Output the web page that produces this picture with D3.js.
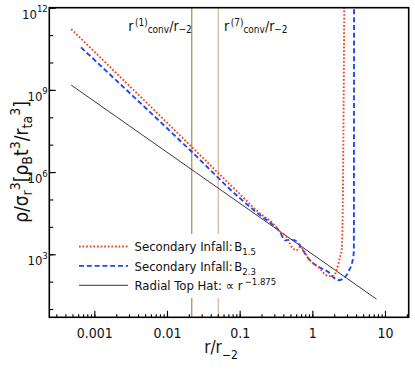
<!DOCTYPE html>
<html lang="en">
  <head>
    <meta charset="UTF-8" />
    <title>Density profiles</title>
    <style>
      body { margin: 0; background: #fff; }
      svg text { font-family: "Liberation Sans Narrow", "DejaVu Sans Condensed", "Liberation Sans", Arial, sans-serif; fill: #111; }
      .frame { fill: none; stroke: #000; stroke-width: 1.6; }
      .axis path { display: none; }
      .axis line { stroke: #000; stroke-width: 1.1; }
    </style>
  </head>
  <body>
    <script src="https://cdn.jsdelivr.net/npm/d3@7/dist/d3.min.js"></script>
    <script>
    // values
    var rB15   = [4.8e-4, 0.0219, 0.101, 0.19, 0.29, 0.358, 0.443, 0.519, 0.608, 0.676, 0.75, 0.927, 1.27, 1.57, 1.94, 2.16, 2.40, 2.53, 2.60, 2.75];
    var rhoB15 = [1.66e11, 8.3e6, 1.55e5, 3.1e4, 1.3e4, 6.6e3, 4.3e3, 1.86e3, 1.41e3, 1.86e3, 1.41e3, 603, 302, 170, 158, 263, 794, 1.4e3, 1e4, 1e12];

    var rB23   = [6.56e-4, 0.0219, 0.101, 0.19, 0.29, 0.358, 0.42, 0.49, 0.577, 0.676, 0.79, 0.927, 1.27, 1.66, 2.05, 2.27, 2.66, 3.12, 3.66, 3.73, 3.75];
    var rhoB23 = [3.55e10, 5.5e6, 1.1e5, 2.7e4, 1.15e4, 6.6e3, 3.2e3, 3.4e3, 3.2e3, 2.1e3, 1.07e3, 603, 327, 224, 129, 112, 129, 224, 794, 1.4e3, 1e12];

    var rTopHat   = [4.8e-4, 7.66];
    var rhoTopHat = [1.5e9, 23];

    var convR = [0.0219, 0.0508];
    var convSup = ["(1)", "(7)"];

    var xTicks = [0.001, 0.01, 0.1, 1, 10];
    var xTickLabels = ["0.001", "0.01", "0.1", "1", "10"];
    var yTicks = [1e3, 1e6, 1e9, 1e12];
    var yTickExp = ["3", "6", "9", "12"];

    var width = 415, height = 382;
    var plotL = 49.3, plotR = 408.7, plotT = 7.7, plotB = 317.3;

    var svg = d3.select("body").append("svg")
      .attr("width", width)
      .attr("height", height);

    var xScale = d3.scaleLog().domain([2.4e-4, 21.2]).range([plotL, plotR]);
    var yScale = d3.scaleLog().domain([5, 1e12]).range([plotB, plotT]);

    svg.append("clipPath").attr("id", "plotclip")
      .append("rect").attr("x", plotL).attr("y", plotT)
      .attr("width", plotR - plotL).attr("height", plotB - plotT);

    // convergence radii
    var conv = svg.append("g");
    conv.selectAll("line").data(convR).enter().append("line")
      .attr("x1", function(d) { return xScale(d); })
      .attr("x2", function(d) { return xScale(d); })
      .attr("y1", plotT).attr("y2", plotB)
      .attr("stroke", function(d, i) { return i == 0 ? "#b58d63" : "#d9bea0"; })
      .attr("stroke-width", 1.3);

    conv.selectAll("text").data(convR).enter().append("text")
      .attr("x", function(d, i) { return xScale(d) + (i == 0 ? -63.5 : 5.7); })
      .attr("y", 31)
      .style("font-size", "14px")
      .each(function(d, i) {
        var t = d3.select(this);
        t.append("tspan").text("r");
        t.append("tspan").attr("dy", -5).attr("dx", 1.5).style("font-size", "10px").text(convSup[i]);
        t.append("tspan").attr("dy", 7).style("font-size", "10px").text("conv");
        t.append("tspan").attr("dy", -2).text("/r");
        t.append("tspan").attr("dy", 2).style("font-size", "10px").text("\u22122");
      });

    // curves
    var line = d3.line()
      .x(function(d) { return xScale(d[0]); })
      .y(function(d) { return yScale(d[1]); })
      .curve(d3.curveMonotoneX);

    var plot = svg.append("g").attr("clip-path", "url(#plotclip)");

    plot.append("path")
      .datum(d3.zip(rTopHat, rhoTopHat))
      .attr("d", line)
      .attr("fill", "none")
      .attr("stroke", "#222")
      .attr("stroke-width", 0.9);

    plot.append("path")
      .datum(d3.zip(rB23, rhoB23))
      .attr("d", line)
      .attr("fill", "none")
      .attr("stroke", "#1c4af2")
      .attr("stroke-width", 1.9)
      .attr("stroke-dasharray", "5,2.8");

    plot.append("path")
      .datum(d3.zip(rB15, rhoB15))
      .attr("d", line)
      .attr("fill", "none")
      .attr("stroke", "#f6401f")
      .attr("stroke-width", 1.9)
      .attr("stroke-dasharray", "1.7,1.9");

    // legend
    var legend = svg.append("g");
    legend.append("rect")
      .attr("x", 72).attr("y", 234).attr("width", 190).attr("height", 64)
      .attr("fill", "#fff");

    var legRows = [
      { stroke: "#f6401f", w: 1.9, dash: "1.7,1.9", txt: "Secondary Infall:", sub: "1.5" },
      { stroke: "#1c4af2", w: 1.9, dash: "5,2.8", txt: "Secondary Infall:", sub: "2.3" },
      { stroke: "#222", w: 0.9, dash: null, txt: "Radial Top Hat: \u221d r", sup: "\u22121.875" }
    ];
    legRows.forEach(function(d, i) {
      var y = 246.5 + i * 19.4;
      legend.append("line")
        .attr("x1", 79).attr("x2", 128).attr("y1", y).attr("y2", y)
        .attr("stroke", d.stroke).attr("stroke-width", d.w)
        .attr("stroke-dasharray", d.dash);
      var t = legend.append("text").attr("x", 134.5).attr("y", y + 4.8).style("font-size", "13px");
      t.append("tspan").text(d.txt);
      if (d.sub) {
        t.append("tspan").attr("dx", 1.5).text("B");
        t.append("tspan").attr("dy", 4).style("font-size", "9.5px").text(d.sub);
      } else {
        t.append("tspan").attr("dy", -5).attr("dx", 2).style("font-size", "9.5px").text(d.sup);
      }
    });

    // axes
    var xMinor = d3.axisBottom(xScale).tickSize(-3).tickFormat("");
    svg.append("g").attr("class", "axis")
      .attr("transform", "translate(0," + plotB + ")")
      .call(xMinor);

    var xMajor = d3.axisBottom(xScale).tickValues(xTicks).tickSize(-6.5)
      .tickFormat(function(d, i) { return xTickLabels[i]; });
    var gx = svg.append("g").attr("class", "axis")
      .attr("transform", "translate(0," + plotB + ")")
      .call(xMajor);
    gx.selectAll("text").attr("y", 11).attr("dy", "0.71em").style("font-size", "14px");

    var yDecades = d3.range(1, 13).map(function(e) { return Math.pow(10, e); });
    svg.append("g").attr("class", "axis")
      .attr("transform", "translate(" + plotL + ",0)")
      .call(d3.axisLeft(yScale).tickValues(yDecades).tickSize(-4).tickFormat(""));

    var gy = svg.append("g").attr("class", "axis")
      .attr("transform", "translate(" + plotL + ",0)")
      .call(d3.axisLeft(yScale).tickValues(yTicks).tickSize(-6.5).tickFormat(""));
    gy.selectAll(".tick").append("text")
      .attr("x", -1.5).attr("y", 10.5)
      .attr("text-anchor", "end")
      .style("font-size", "13px")
      .each(function(d, i) {
        var t = d3.select(this);
        t.append("tspan").text("10");
        t.append("tspan").attr("dy", -6.5).style("font-size", "9.5px").text(yTickExp[i]);
      });

    svg.append("rect").attr("class", "frame")
      .attr("x", plotL).attr("y", plotT)
      .attr("width", plotR - plotL).attr("height", plotB - plotT);

    // axis titles
    var xt = svg.append("text")
      .attr("x", 221).attr("y", 353)
      .attr("text-anchor", "middle")
      .style("font-size", "17px");
    xt.append("tspan").text("r/r");
    xt.append("tspan").attr("dy", 6).style("font-size", "12px").text("\u22122");

    var yt = svg.append("text")
      .attr("transform", "translate(28,162) rotate(-90)")
      .attr("text-anchor", "middle")
      .style("font-size", "19px");
    yt.append("tspan").text("\u03c1/\u03c3");
    yt.append("tspan").attr("dy", 4).style("font-size", "14px").text("r");
    yt.append("tspan").attr("dy", -12).style("font-size", "14px").text("3");
    yt.append("tspan").attr("dy", 8).text("[\u03c1");
    yt.append("tspan").attr("dy", 4).style("font-size", "14px").text("B");
    yt.append("tspan").attr("dy", -4).text("t");
    yt.append("tspan").attr("dy", -8).style("font-size", "14px").text("3");
    yt.append("tspan").attr("dy", 8).text("/r");
    yt.append("tspan").attr("dy", 4).style("font-size", "14px").text("ta");
    yt.append("tspan").attr("dy", -12).style("font-size", "14px").text("3");
    yt.append("tspan").attr("dy", 8).text("]");
    </script>
  </body>
</html>
